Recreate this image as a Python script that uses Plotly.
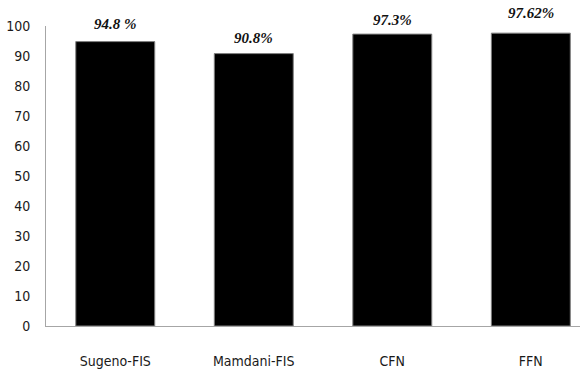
import plotly.graph_objects as go

# Classification accuracy (%) of each model
models = ["Sugeno-FIS", "Mamdani-FIS", "CFN", "FFN"]
accuracy = [94.8, 90.8, 97.3, 97.62]
labels = ["94.8 %", "90.8%", "97.3%", "97.62%"]
label_lift = [18, 16, 14, 20]
y_ticks = [0, 10, 20, 30, 40, 50, 60, 70, 80, 90, 100]

tick_font = dict(family="Liberation Sans Narrow, DejaVu Sans Condensed, Arial", size=14, color="#1a1a1a")

fig = go.Figure(
    go.Bar(
        x=models,
        y=accuracy,
        marker=dict(color="black", line=dict(color="#808080", width=1)),
        hoverinfo="skip",
    )
)

for m, v, t, s in zip(models, accuracy, labels, label_lift):
    fig.add_annotation(
        x=m, y=v, text=f"<b><i>{t}</i></b>", showarrow=False,
        yshift=s, font=dict(family="Liberation Serif, Times New Roman, serif", size=15, color="#111111"),
    )

fig.update_layout(
    width=580, height=372,
    margin=dict(l=46, r=0, t=26, b=46),
    paper_bgcolor="white", plot_bgcolor="white",
    bargap=0.43, showlegend=False,
)
fig.update_xaxes(
    range=[-0.5, 3.355], showline=True, linecolor="#a6a6a6", linewidth=1,
    showgrid=False, ticks="", tickfont=tick_font, ticklabelstandoff=22,
)
fig.update_yaxes(
    range=[0, 100], tickvals=y_ticks, showline=True, linecolor="#a6a6a6", linewidth=1,
    showgrid=False, zeroline=False, ticks="", tickfont=tick_font, ticklabelstandoff=12,
)

fig.write_html("out.html")
